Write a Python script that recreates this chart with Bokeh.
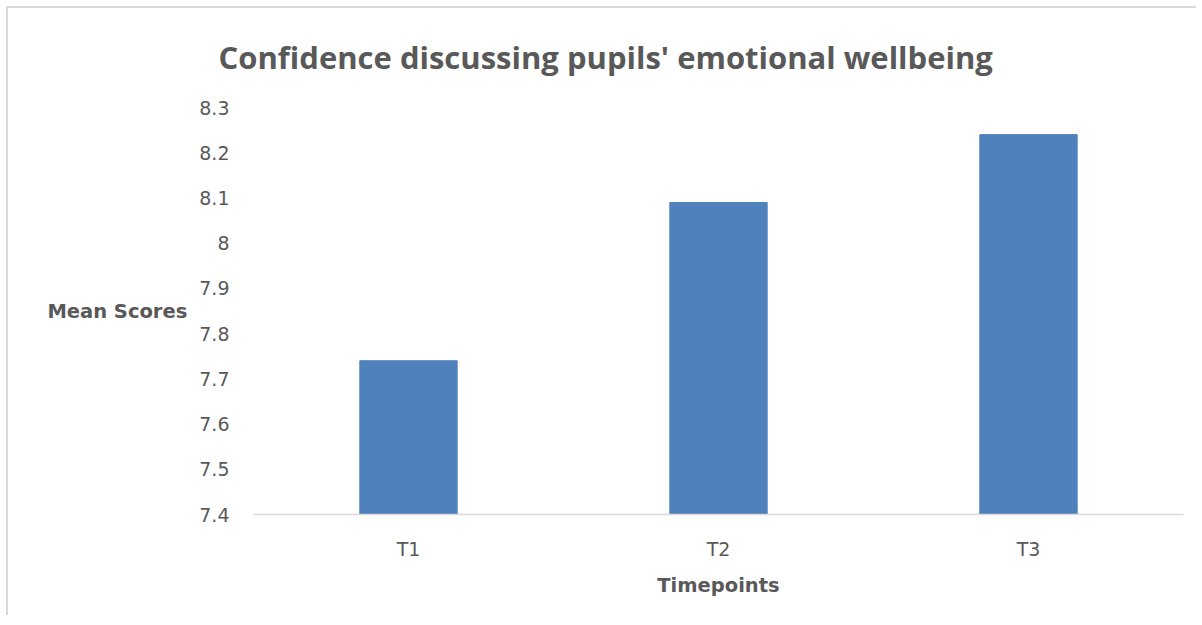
from bokeh.plotting import figure
from bokeh.models import Range1d, FixedTicker, Title
from bokeh.embed import file_html
from bokeh.resources import INLINE

# ---- data ----
categories = ["T1", "T2", "T3"]
mean_scores = [7.74, 8.09, 8.24]
y_ticks = [7.4, 7.5, 7.6, 7.7, 7.8, 7.9, 8.0, 8.1, 8.2, 8.3]
y_tick_labels = ["7.4", "7.5", "7.6", "7.7", "7.8", "7.9", "8", "8.1", "8.2", "8.3"]
title_text = "Confidence  discussing pupils' emotional wellbeing"
x_label = "Timepoints"
y_label = "Mean Scores"

TITLE_FONT = "Open Sans"
FONT = "DejaVu Sans"
TEXT = "#595959"
BAR = "#4F81BD"

p = figure(
    x_range=categories,
    y_range=Range1d(y_ticks[0], y_ticks[-1]),
    width=1190, height=609,
    output_backend="svg", toolbar_location=None,
    min_border_left=245, min_border_right=15,
    min_border_top=98, min_border_bottom=103,
)
p.styles = {"margin-top": "6px", "margin-left": "6px",
            "border-top": "2px solid #d9d9d9", "border-left": "2px solid #d9d9d9"}
p.outline_line_color = None
p.xgrid.grid_line_color = None
p.ygrid.grid_line_color = None
p.background_fill_color = "white"
p.border_fill_color = "white"

p.vbar(x=categories, top=mean_scores, bottom=y_ticks[0], width=0.314,
       fill_color=BAR, line_color=BAR)

# x axis
xa = p.xaxis[0]
xa.axis_line_color = "#d9d9d9"
xa.axis_line_width = 1.5
xa.major_tick_line_color = None
xa.minor_tick_line_color = None
xa.major_label_text_font = FONT
xa.major_label_text_font_size = "19px"
xa.major_label_text_color = TEXT
xa.major_label_standoff = 17
xa.axis_label = x_label
xa.axis_label_text_font = FONT
xa.axis_label_text_font_size = "19.5px"
xa.axis_label_text_font_style = "bold"
xa.axis_label_text_color = TEXT
xa.axis_label_standoff = 11

# y axis
ya = p.yaxis[0]
ya.ticker = FixedTicker(ticks=y_ticks)
ya.major_label_overrides = {t: l for t, l in zip(y_ticks, y_tick_labels)}
ya.axis_line_color = None
ya.major_tick_line_color = None
ya.minor_tick_line_color = None
ya.major_label_text_font = FONT
ya.major_label_text_font_size = "19px"
ya.major_label_text_color = TEXT
ya.major_label_standoff = 18
ya.axis_label = y_label
ya.axis_label_orientation = "horizontal"
ya.axis_label_text_font = FONT
ya.axis_label_text_font_size = "19.5px"
ya.axis_label_text_font_style = "bold"
ya.axis_label_text_color = TEXT
ya.axis_label_standoff = 9

title = Title(text=title_text, align="left", offset=-35, vertical_align="top",
              standoff=55, text_font=TITLE_FONT, text_font_size="31px",
              text_font_style="bold", text_color=TEXT)
p.add_layout(title, "above")

open("out.html", "w").write(file_html(p, INLINE))
